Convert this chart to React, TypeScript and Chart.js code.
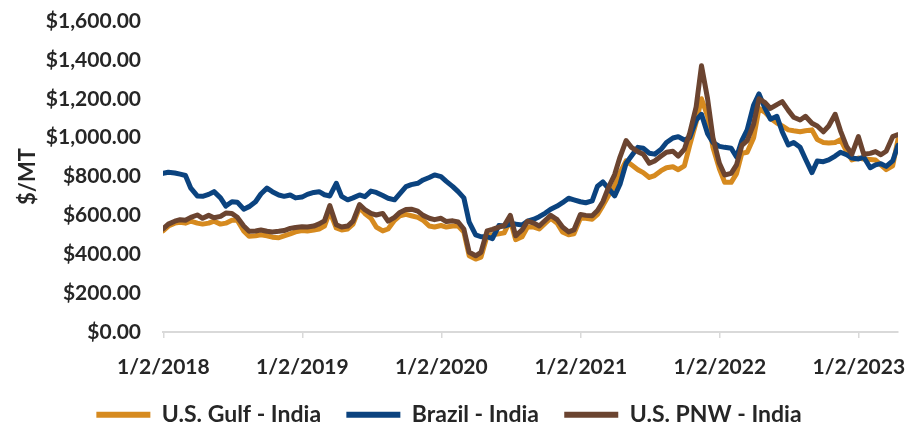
import React, { useEffect, useRef } from "react";
import { Chart, registerables } from "chart.js";

Chart.register(...registerables);

// Half-monthly observation dates
const dates: string[] = [
  "2018-01-01","2018-01-15","2018-02-01","2018-02-15","2018-03-01","2018-03-15","2018-04-01","2018-04-15","2018-05-01","2018-05-15","2018-06-01","2018-06-15",
  "2018-07-01","2018-07-15","2018-08-01","2018-08-15","2018-09-01","2018-09-15","2018-10-01","2018-10-15","2018-11-01","2018-11-15","2018-12-01","2018-12-15",
  "2019-01-01","2019-01-15","2019-02-01","2019-02-15","2019-03-01","2019-03-15","2019-04-01","2019-04-15","2019-05-01","2019-05-15","2019-06-01","2019-06-15",
  "2019-07-01","2019-07-15","2019-08-01","2019-08-15","2019-09-01","2019-09-15","2019-10-01","2019-10-15","2019-11-01","2019-11-15","2019-12-01","2019-12-15",
  "2020-01-01","2020-01-15","2020-02-01","2020-02-15","2020-03-01","2020-03-15","2020-04-01","2020-04-15","2020-05-01","2020-05-15","2020-06-01","2020-06-15",
  "2020-07-01","2020-07-15","2020-08-01","2020-08-15","2020-09-01","2020-09-15","2020-10-01","2020-10-15","2020-11-01","2020-11-15","2020-12-01","2020-12-15",
  "2021-01-01","2021-01-15","2021-02-01","2021-02-15","2021-03-01","2021-03-15","2021-04-01","2021-04-15","2021-05-01","2021-05-15","2021-06-01","2021-06-15",
  "2021-07-01","2021-07-15","2021-08-01","2021-08-15","2021-09-01","2021-09-15","2021-10-01","2021-10-15","2021-11-01","2021-11-15","2021-12-01","2021-12-15",
  "2022-01-01","2022-01-15","2022-02-01","2022-02-15","2022-03-01","2022-03-15","2022-04-01","2022-04-15","2022-05-01","2022-05-15","2022-06-01","2022-06-15",
  "2022-07-01","2022-07-15","2022-08-01","2022-08-15","2022-09-01","2022-09-15","2022-10-01","2022-10-15","2022-11-01","2022-11-15","2022-12-01","2022-12-15",
  "2023-01-01","2023-01-15","2023-02-01","2023-02-15","2023-03-01","2023-03-15","2023-04-01","2023-04-15",
];

const usGulfIndia: number[] = [
  520,545,560,565,560,570,560,555,560,570,555,560,575,575,520,492,495,500,495,488,485,495,505,515,
  522,520,525,530,545,620,535,525,530,555,640,610,585,540,520,530,575,598,605,598,590,575,545,540,
  548,540,545,545,515,392,375,385,495,500,505,510,575,475,490,540,540,530,560,585,560,515,500,505,
  585,585,580,605,650,700,750,820,880,860,835,820,795,805,830,845,850,835,855,960,1080,1200,1110,950,
  840,770,770,815,920,925,1000,1150,1130,1100,1075,1060,1040,1035,1030,1035,1040,990,975,972,975,990,930,885,
  895,890,888,885,860,835,855,990,
];

const brazilIndia: number[] = [
  816,822,818,812,805,740,700,698,708,722,690,648,670,668,632,645,670,710,740,722,705,698,705,690,
  694,708,718,722,706,700,765,698,680,690,705,696,725,718,702,688,680,712,748,758,765,782,795,808,
  799,775,748,722,690,565,500,490,490,480,548,545,555,555,550,570,580,593,612,632,648,665,688,680,
  670,665,675,750,772,740,700,760,868,905,950,945,920,915,940,975,998,1005,988,1000,1090,1120,1020,975,
  955,950,945,900,985,1040,1168,1225,1150,1095,1110,1030,962,975,950,890,820,880,876,885,905,925,912,895,
  890,900,845,860,866,852,880,960,
];

const usPnwIndia: number[] = [
  530,555,570,578,575,590,602,585,600,588,595,612,610,590,545,518,520,525,518,515,518,522,533,538,
  542,540,545,556,572,650,552,540,545,570,655,630,610,602,610,570,590,615,630,632,622,600,585,578,
  585,568,572,566,530,410,392,410,520,528,540,548,600,495,525,570,560,545,575,600,578,540,515,525,
  605,600,598,625,670,740,810,900,985,950,928,915,868,880,905,925,930,905,940,1022,1159,1370,1200,1000,
  868,808,816,860,960,985,1070,1200,1180,1150,1170,1185,1140,1105,1091,1110,1074,1060,1030,1060,1120,1035,955,915,
  1005,915,919,928,912,930,1005,1015,
];

const seriesNames: string[] = ["U.S. Gulf - India", "Brazil - India", "U.S. PNW - India"];
const seriesColors: string[] = ["#D68A1F", "#0B437F", "#6B4430"];

const tickDates: string[] = ["2018-01-02", "2019-01-02", "2020-01-02", "2021-01-02", "2022-01-02", "2023-01-02"];
const tickLabels: string[] = ["1/2/2018", "1/2/2019", "1/2/2020", "1/2/2021", "1/2/2022", "1/2/2023"];

const yMin = 0;
const yMax = 1600;
const yStep = 200;
const yTitle = "$/MT";

const FONT = "Lato, 'Open Sans', 'Liberation Sans', sans-serif";
const TEXT = "#262626";

const ORIGIN = Date.UTC(2018, 0, 2);
function dayOf(s: string): number {
  const [y, m, d] = s.split("-").map(Number);
  return (Date.UTC(y, m - 1, d) - ORIGIN) / 86400000;
}

export default function App() {
  const ref = useRef<HTMLCanvasElement | null>(null);

  useEffect(() => {
    if (!ref.current) return;
    const xs = dates.map(dayOf);
    const seriesValues = [usGulfIndia, brazilIndia, usPnwIndia];
    const orders = [3, 2, 1];
    const tickVals = tickDates.map(dayOf);

    const chart = new Chart(ref.current, {
      type: "line",
      data: {
        datasets: seriesValues.map((vals, si) => ({
          label: seriesNames[si],
          data: vals.map((v, i) => ({ x: xs[i], y: v })),
          borderColor: seriesColors[si],
          backgroundColor: seriesColors[si],
          borderWidth: 5,
          pointRadius: 0,
          tension: 0,
          borderJoinStyle: "round" as const,
          borderCapStyle: "round" as const,
          order: orders[si],
        })),
      },
      options: {
        animation: false,
        responsive: true,
        maintainAspectRatio: false,
        layout: { padding: { left: 0, right: 11, top: 21, bottom: 1 } },
        plugins: {
          tooltip: { enabled: false },
          legend: {
            position: "bottom",
            maxHeight: 50,
            labels: {
              boxWidth: 54,
              boxHeight: 6,
              padding: 25.3,
              color: TEXT,
              font: { family: FONT, size: 23, weight: "bold" },
              generateLabels: (c: any) =>
                c.data.datasets.map((ds: any, i: number) => ({
                  text: ds.label,
                  fillStyle: ds.borderColor,
                  strokeStyle: ds.borderColor,
                  lineWidth: 0,
                  hidden: !c.isDatasetVisible(i),
                  datasetIndex: i,
                  fontColor: TEXT,
                })),
            },
          },
        },
        scales: {
          x: {
            type: "linear",
            min: xs[0],
            max: xs[xs.length - 1],
            afterBuildTicks: (s: any) => {
              s.ticks = tickVals.map((v) => ({ value: v }));
            },
            afterFit: (s: any) => {
              s.paddingLeft = 0;
              s.paddingRight = 0;
              s.height = 46;
            },
            ticks: {
              autoSkip: false,
              maxRotation: 0,
              padding: 17,
              color: TEXT,
              font: { family: FONT, size: 21, weight: "bold" },
              callback: (v: any) => {
                const idx = tickVals.indexOf(Number(v));
                return idx >= 0 ? tickLabels[idx] : "";
              },
            },
            grid: {
              display: true,
              drawOnChartArea: false,
              drawTicks: true,
              tickLength: 6,
              color: "#D9D9D9",
              lineWidth: 1.5,
            },
            border: { display: true, color: "#D9D9D9", width: 2 },
          },
          y: {
            min: yMin,
            max: yMax,
            afterFit: (s: any) => {
              s.width = 163;
              s.paddingTop = 0;
              s.paddingBottom = 0;
            },
            ticks: {
              stepSize: yStep,
              padding: 22,
              color: TEXT,
              font: { family: FONT, size: 21, weight: "bold" },
              callback: (v: any) =>
                "$" + Number(v).toLocaleString("en-US", { minimumFractionDigits: 2, maximumFractionDigits: 2 }),
            },
            grid: { display: false, drawTicks: false },
            border: { display: false },
            title: {
              display: true,
              text: yTitle,
              color: TEXT,
              font: { family: FONT, size: 22, weight: "bold" },
              padding: { top: 15, bottom: 0 },
            },
          },
        },
      },
    });
    return () => chart.destroy();
  }, []);

  return (
    <div style={{ position: "fixed", left: 0, top: 0, width: 909, height: 429, background: "#fff" }}>
      <canvas ref={ref} />
    </div>
  );
}
